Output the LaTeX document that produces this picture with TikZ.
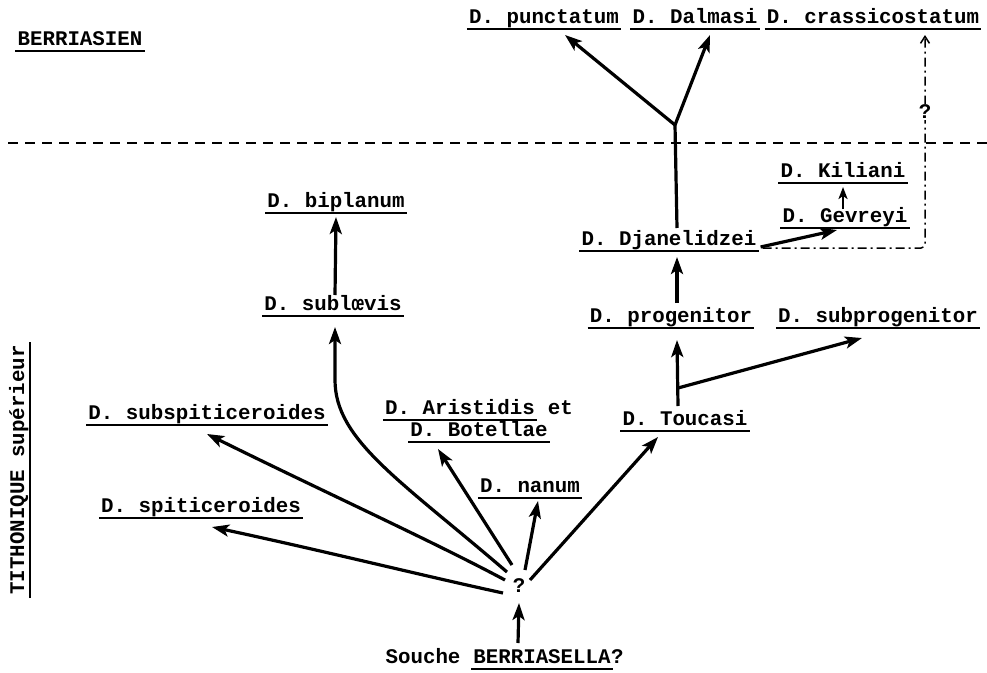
\documentclass[tikz,border=0pt]{standalone}
\usepackage{fontspec}
\setmonofont{Liberation Mono}
\usetikzlibrary{arrows.meta}
\begin{document}
\begin{tikzpicture}[x=1pt,y=-1pt,
  lbl/.style={font=\fontsize{20.8}{22}\selectfont\ttfamily\bfseries, inner sep=0pt, anchor=base},
  ul/.style={append after command={([yshift=-6pt,xshift=-2pt]\tikzlastnode.base west) edge[draw,line width=2.3pt,-] ([yshift=-6pt,xshift=2pt]\tikzlastnode.base east)}},
  ar/.style={line width=3.2pt,-{Stealth[length=17pt,width=12pt,inset=4pt]}},
  arm/.style={line width=2.4pt,-{Stealth[length=12pt,width=9pt,inset=3pt]}},
  boundary/.style={line width=1.8pt,dash pattern=on 10pt off 7pt},
  dd/.style={line width=1.5pt,dash pattern=on 9pt off 4pt on 2pt off 4pt,-{Straight Barb[length=7pt,width=9pt]}},
]
\useasboundingbox (0,0) rectangle (987,672);

% labels
\node[lbl,ul] (berr) at (80,45) {BERRIASIEN};
\node[lbl,rotate=90] (tith) at (24,470) {TITHONIQUE supérieur};
\draw[line width=1.8pt] ([xshift=6pt,yshift=-3pt]tith.base west) -- ([xshift=6pt,yshift=3pt]tith.base east);

\node[lbl,ul] (punct) at (544,23) {D. punctatum};
\node[lbl,ul] (dalm) at (695,23) {D. Dalmasi};
\node[lbl,ul] (crass) at (873,23) {D. crassicostatum};
\node[lbl,ul] (kil) at (843,177) {D. Kiliani};
\node[lbl,ul] (gev) at (845,222) {D. Gevreyi};
\node[lbl,ul] (djan) at (669,245) {D. Djanelidzei};
\node[lbl,ul] (biplan) at (336,207) {D. biplanum};
\node[lbl,ul] (sublo) at (333,310) {D. sublœvis};
\node[lbl,ul] (prog) at (671,322) {D. progenitor};
\node[lbl,ul] (subprog) at (878,322) {D. subprogenitor};
\node[lbl,ul] (subspit) at (207,419) {D. subspiticeroides};
\node[lbl,ul] (aris) at (460,414) {D. Aristidis};
\node[lbl,anchor=base west] (et) at ([xshift=12.48pt]aris.base east) {et};
\node[lbl,ul] (botel) at (479,436) {D. Botellae};
\node[lbl,ul] (touc) at (685,425) {D. Toucasi};
\node[lbl,ul] (nanum) at (530,492) {D. nanum};
\node[lbl,ul] (spit) at (201,512) {D. spiticeroides};
\node[lbl] (qmark) at (519,592) {?};
\node[lbl,ul] (s2) at (542,663) {BERRIASELLA};
\node[lbl,anchor=base east] (s1) at ([xshift=-12.48pt]s2.base west) {Souche};
\node[lbl,anchor=base west] (s3) at (s2.base east) {?};

% stage boundary
\coordinate (bl) at (8,143);
\coordinate (br) at (987,143);
\draw[boundary] (bl) -- (br);

% upper branching
\coordinate (J) at (675,125);
\draw[line width=3.2pt] ([xshift=8pt,yshift=17pt]djan.base) -- (J);
\draw[ar] (J) -- ([xshift=21pt,yshift=-12pt]punct.base);
\draw[ar] (J) -- ([xshift=15pt,yshift=-12pt]dalm.base);

\draw[ar] ([xshift=6pt,yshift=19pt]prog.base) -- ([xshift=8pt,yshift=-12pt]djan.base);
\draw[ar] ([xshift=4pt,yshift=-2pt]djan.base east) -- ([xshift=-8pt,yshift=-8pt]gev.base);
\draw[arm] ([xshift=-2pt,yshift=13pt]gev.base) -- ([yshift=-10pt]kil.base);
\draw[dd,rounded corners=4pt] ([xshift=6pt,yshift=-3pt]djan.base east) -| ([xshift=52pt,yshift=-12pt]crass.base);
\node[lbl,fill=white,inner sep=1pt,anchor=center] (q2) at (925,112) {?};

% Toucasi and progenitor
\coordinate (T) at (678,388);
\draw[ar] ([xshift=-7pt,yshift=19pt]touc.base) -- ([xshift=6pt,yshift=-18pt]prog.base);
\draw[ar] (T) -- ([xshift=-16pt,yshift=-16pt]subprog.base);

% biplanum
\draw[ar] ([xshift=2pt,yshift=15pt]sublo.base) -- ([yshift=-10pt]biplan.base);

% radiation from the root
\draw[ar] ([xshift=-16pt,yshift=-1pt]qmark.base) .. controls (420,575) and (320,550) .. ([xshift=11pt,yshift=-15pt]spit.base);
\draw[ar] ([xshift=-14pt,yshift=12pt]qmark.base) .. controls (430,540) and (320,490) .. ([yshift=-15pt]subspit.base);
\draw[ar] ([xshift=-12pt,yshift=20pt]qmark.base) .. controls (400,480) and (335,440) .. (335,380) -- ([xshift=2pt,yshift=-17pt]sublo.base);
\draw[ar] ([xshift=-7pt,yshift=27pt]qmark.base) -- ([xshift=-41pt,yshift=-13pt]botel.base);
\draw[ar] ([xshift=6pt,yshift=22pt]qmark.base) -- ([xshift=8pt,yshift=-9pt]nanum.base);
\draw[ar] ([xshift=11pt,yshift=12pt]qmark.base) -- ([xshift=-27pt,yshift=-12pt]touc.base);

% root
\draw[ar] ([xshift=-24pt,yshift=20pt]s2.base) -- ([yshift=-11pt]qmark.base);
\end{tikzpicture}
\end{document}
